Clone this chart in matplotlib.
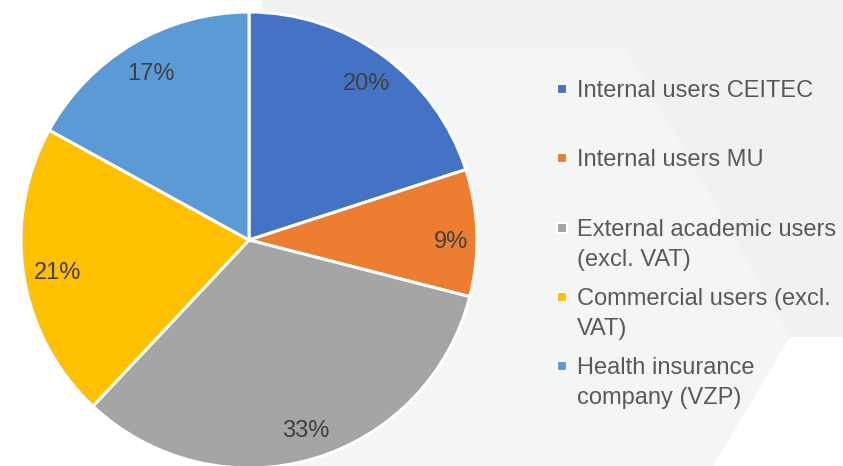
import matplotlib
matplotlib.use("Agg")
import matplotlib.pyplot as plt
from matplotlib.patches import Polygon, Rectangle

categories = ["Internal users CEITEC", "Internal users MU",
              "External academic users\n(excl. VAT)",
              "Commercial users (excl.\nVAT)",
              "Health insurance\ncompany (VZP)"]
shares = [20, 9, 33, 21, 17]
colors = ["#4472C4", "#ED7D31", "#A5A5A5", "#FFC000", "#5B9BD5"]

W, H = 843, 466
fig = plt.figure(figsize=(W / 100, H / 100), dpi=100)
fig.patch.set_facecolor("white")

# background decorative shapes (pixel coordinates)
bg = fig.add_axes([0, 0, 1, 1])
bg.set_xlim(0, W)
bg.set_ylim(H, 0)
bg.axis("off")
bg.add_patch(Polygon([(262, 0), (843, 0), (843, 337), (790, 337), (713, 466),
                      (250, 466), (250, 100)], closed=True,
                     facecolor="#f4f5f5", edgecolor="none"))
bg.add_patch(Polygon([(262, 0), (650, 0), (625, 47), (280, 47)], closed=True,
                     facecolor="#f0f1f1", edgecolor="none"))
bg.add_patch(Polygon([(650, 0), (843, 0), (843, 337), (790, 337), (625, 47)],
                     closed=True, facecolor="#f0f1f3", edgecolor="none"))

# pie
cx, cy, r = 249, 240, 228
ax = fig.add_axes([(cx - r) / W, (H - cy - r) / H, 2 * r / W, 2 * r / H])
wedges, texts, autotexts = ax.pie(
    shares, colors=colors, startangle=90, counterclock=False,
    autopct=lambda p: f"{p:.0f}%", pctdistance=0.86,
    wedgeprops=dict(edgecolor="white", linewidth=2.2, clip_on=False),
    textprops=dict(fontsize=17, color="#404040", family="Liberation Sans"))
autotexts[1].set_position((0.877, 0.0))
for t in autotexts:
    x, y = t.get_position()
    t.set_position((x + 0.01, y - 0.01))
ax.set_xlim(-1.0, 1.0)
ax.set_ylim(-1.0, 1.0)
ax.set_aspect("equal")
ax.axis("off")

# legend (manual, in pixel coords)
line_y = [89, 158, 228, 297, 366]
for cat, col, y in zip(categories, colors, line_y):
    bg.add_patch(Rectangle((557, y - 5), 10, 10, facecolor=col,
                           edgecolor="white", linewidth=1.5))
    bg.text(577, y - 9, cat, fontsize=17, color="#595959",
            family="Liberation Sans", va="top", ha="left",
            linespacing=1.45)

fig.savefig("out.png", dpi=100, facecolor=fig.get_facecolor())
